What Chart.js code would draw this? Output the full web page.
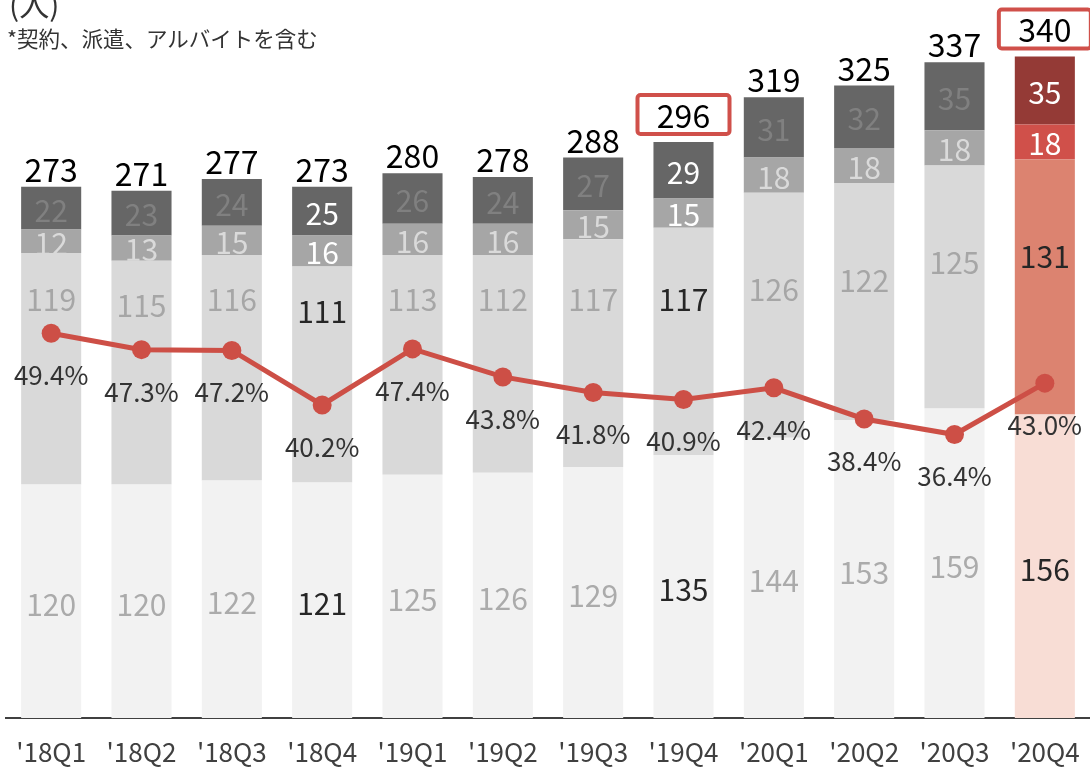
<!DOCTYPE html>
<html>
<head>
<meta charset="utf-8">
<title>従業員数の推移</title>
<script src="https://cdn.jsdelivr.net/npm/chart.js"></script>
<style>
  body {
    margin: 0;
    padding: 0;
    background: #fff;
    overflow: hidden;
    font-family: "Noto Sans CJK JP", sans-serif;
  }
  .wrap {
    position: relative;
    width: 1090px;
    height: 767px;
  }
  .unit {
    position: absolute;
    left: 9px;
    top: -12px;
    font-size: 30px;
    line-height: 1;
    color: #333;
  }
  .note {
    position: absolute;
    left: 7px;
    top: 27px;
    font-size: 21.5px;
    line-height: 1;
    color: #333;
  }
</style>
</head>
<body>
<div class="wrap">
  <canvas id="chart" width="1090" height="767"></canvas>
  <div class="unit">(人)</div>
  <div class="note">*契約、派遣、アルバイトを含む</div>
</div>
<script>
const quarters = ["'18Q1", "'18Q2", "'18Q3", "'18Q4", "'19Q1", "'19Q2", "'19Q3", "'19Q4", "'20Q1", "'20Q2", "'20Q3", "'20Q4"];
const base = [120, 120, 122, 121, 125, 126, 129, 135, 144, 153, 159, 156];
const middle = [119, 115, 116, 111, 113, 112, 117, 117, 126, 122, 125, 131];
const small = [12, 13, 15, 16, 16, 16, 15, 15, 18, 18, 18, 18];
const upper = [22, 23, 24, 25, 26, 24, 27, 29, 31, 32, 35, 35];
const totals = [273, 271, 277, 273, 280, 278, 288, 296, 319, 325, 337, 340];
const ratio = [49.4, 47.3, 47.2, 40.2, 47.4, 43.8, 41.8, 40.9, 42.4, 38.4, 36.4, 43.0];
const boxed = ["'19Q4", "'20Q4"];

const FONT = '"Noto Sans CJK JP", "Noto Sans", sans-serif';
const RED = '#cd4f46';
const grays = ['#f2f2f2', '#d9d9d9', '#a6a6a6', '#666666'];
const reds = ['#f8ddd5', '#dc8370', '#d0504a', '#943a36'];
const softText = ['#ababab', '#a6a6a6', '#dadada', '#808080'];
const strongText = ['#262626', '#262626', '#ffffff', '#ffffff'];

// last quarter gets the red palette
const shade = (level) => quarters.map((q, i) => i === quarters.length - 1 ? reds[level] : grays[level]);

const labelPlugin = {
  id: 'labels',
  afterDatasetsDraw(chart) {
    const ctx = chart.ctx;
    const y = chart.scales.y;
    const segs = [base, middle, small, upper];
    ctx.save();
    ctx.textAlign = 'center';

    segs.forEach((vals, s) => {
      const meta = chart.getDatasetMeta(s + 1);
      meta.data.forEach((bar, i) => {
        const strong = quarters[i].endsWith('Q4');
        let ly = (bar.y + bar.base) / 2 + 2;
        if (s === 0) ly += 1;
        if (s === 1) {
          // keep the middle label clear of the line and its labels
          const top = base[i] + middle[i];
          const shift = Math.min(50, Math.max(23, top - 215));
          ly = y.getPixelForValue(top - shift);
        }
        ctx.save();
        ctx.beginPath();
        ctx.rect(bar.x - bar.width / 2, bar.y, bar.width, bar.base - bar.y);
        ctx.clip();
        ctx.font = `30px ${FONT}`;
        ctx.textBaseline = 'middle';
        ctx.fillStyle = strong ? strongText[s] : softText[s];
        ctx.fillText(String(vals[i]), bar.x, ly);
        ctx.restore();
      });
    });

    // totals on top
    const topMeta = chart.getDatasetMeta(4);
    topMeta.data.forEach((bar, i) => {
      ctx.font = `32px ${FONT}`;
      if (boxed.includes(quarters[i])) {
        const bw = 96, bh = 43;
        const by = bar.y - 6 - bh;
        ctx.fillStyle = '#fff';
        ctx.strokeStyle = '#d0504a';
        ctx.lineWidth = 4;
        ctx.beginPath();
        if (ctx.roundRect) ctx.roundRect(bar.x - bw / 2 + 2, by + 2, bw - 4, bh - 4, 3);
        else ctx.rect(bar.x - bw / 2 + 2, by + 2, bw - 4, bh - 4);
        ctx.fill();
        ctx.stroke();
        ctx.fillStyle = '#000';
        ctx.textBaseline = 'middle';
        ctx.fillText(String(totals[i]), bar.x, by + bh / 2 + 1);
      } else {
        ctx.fillStyle = '#000';
        ctx.textBaseline = 'alphabetic';
        ctx.fillText(String(totals[i]), bar.x, bar.y - 5);
      }
    });

    // ratio labels under the points
    const lineMeta = chart.getDatasetMeta(0);
    lineMeta.data.forEach((pt, i) => {
      ctx.font = `26px ${FONT}`;
      ctx.fillStyle = '#333';
      ctx.textBaseline = 'middle';
      ctx.fillText(ratio[i].toFixed(1) + '%', pt.x, pt.y + 42);
    });
    ctx.restore();
  }
};

new Chart(document.getElementById('chart'), {
  type: 'bar',
  data: {
    labels: quarters,
    datasets: [
      {
        type: 'line',
        data: ratio,
        yAxisID: 'y2',
        borderColor: RED,
        backgroundColor: RED,
        borderWidth: 5,
        pointRadius: 9.5,
        pointHoverRadius: 9.5,
        pointBorderWidth: 0,
        tension: 0,
        order: 0,
      },
      { data: base, backgroundColor: shade(0), stack: 's', order: 1 },
      { data: middle, backgroundColor: shade(1), stack: 's', order: 1 },
      { data: small, backgroundColor: shade(2), stack: 's', order: 1 },
      { data: upper, backgroundColor: shade(3), stack: 's', order: 1 },
    ],
  },
  options: {
    responsive: false,
    animation: false,
    devicePixelRatio: 1,
    layout: { autoPadding: false, padding: { left: 6, right: 0, top: 0, bottom: 0 } },
    datasets: {
      bar: { barPercentage: 0.665, categoryPercentage: 1 },
    },
    plugins: {
      legend: { display: false },
      tooltip: { enabled: false },
    },
    scales: {
      x: {
        stacked: true,
        grid: { display: false, drawTicks: false },
        border: { display: true, color: '#404040', width: 2 },
        ticks: {
          color: '#404040',
          padding: 19,
          font: { family: FONT, size: 26 },
        },
        afterFit(scale) {
          scale.height = 49;
          scale.paddingLeft = 0;
          scale.paddingRight = 0;
        },
      },
      y: { stacked: true, display: false, min: 0, max: 369 },
      y2: { display: false, min: 0, max: 92.2, position: 'right' },
    },
  },
  plugins: [labelPlugin],
});
</script>
</body>
</html>
